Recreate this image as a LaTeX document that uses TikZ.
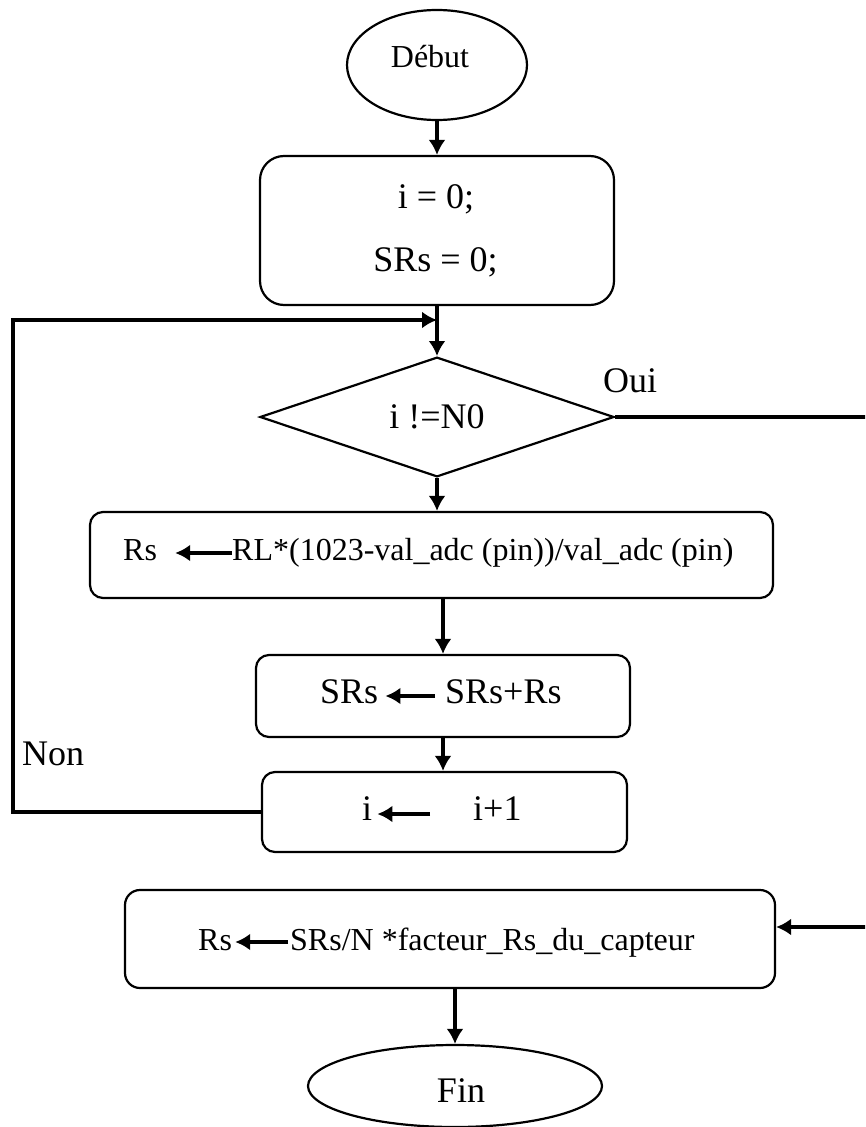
\documentclass[tikz,border=0pt]{standalone}
\usepackage{fontspec}
\setmainfont{Liberation Serif}
\usetikzlibrary{arrows.meta}
\usetikzlibrary{shapes.geometric}
\tikzset{
  fcterm/.style={draw, ellipse, line width=2.2pt, inner sep=0pt},
  fcbox/.style={draw, rectangle, rounded corners=13pt, line width=2.2pt,
    inner sep=0pt},
  fcdecision/.style={draw, diamond, line width=2.2pt, inner sep=0pt},
  fcarrow/.style={-{Latex[length=15pt, width=17pt]}, line width=3.5pt},
  fcbig/.style={font=\fontsize{36}{43}\selectfont, inner sep=0pt},
  fcsmall/.style={font=\fontsize{32}{38}\selectfont, inner sep=0pt},
  every picture/.style={line join=miter},
}

\begin{document}
\begin{tikzpicture}[x=1pt, y=-1pt]
\useasboundingbox (0, 0) rectangle (865, 1127);
\clip (0, 0) rectangle (865, 1127);

% Start.
\node[fcterm, minimum width=180pt, minimum height=110pt] (debut) at (437, 65) {};
\node[fcsmall, anchor=base] (debuttxt) at (430, 67) {Début};

% Initialisation.
\node[fcbox, rounded corners=24pt, minimum width=354pt,
      minimum height=149pt] (init) at (437, 230.5) {};
\node[fcbig, anchor=base] (initi) at (436, 208) {i = 0;};
\node[fcbig, anchor=base] (initsrs) at (435.5, 271) {SRs = 0;};

% Loop test.
\node[fcdecision, fcbig, minimum width=354pt, minimum height=118pt]
  (test) at (437, 417) {i !=N0};
\node[fcbig, anchor=base west] (oui) at (603, 392) {Oui};
\node[fcbig, anchor=base west] (non) at (22, 765) {Non};

% Reading of the sensor.
\node[fcbox, minimum width=683pt, minimum height=86pt] (calc) at (431.5, 555) {};
\node[fcsmall, anchor=base west] (calcrs) at (123, 560) {Rs};
\node[fcsmall, anchor=base west] (calcexpr) at (232, 560)
  {RL*(1023-val\_adc (pin))/val\_adc (pin)};
\draw[fcarrow, shorten >=18pt]
  ([yshift=7pt]calcexpr.base west) -- ([yshift=7pt]calcrs.base east);

% Sum.
\node[fcbox, minimum width=374pt, minimum height=82pt] (add) at (443, 696) {};
\node[fcbig, anchor=base west] (addsrs) at (320, 703) {SRs};
\node[fcbig, anchor=base west] (addexpr) at (445, 703) {SRs+Rs};
\draw[fcarrow, shorten <=10pt, shorten >=7pt]
  ([yshift=7pt]addexpr.base west) -- ([yshift=7pt]addsrs.base east);

% Increment.
\node[fcbox, minimum width=365pt, minimum height=80pt] (incr) at (444.5, 812) {};
\node[fcbig, anchor=base west] (incri) at (362, 820) {i};
\node[fcbig, anchor=base west] (increxpr) at (473, 820) {i+1};
\draw[fcarrow, shorten <=43pt, shorten >=5pt]
  ([yshift=6pt]increxpr.base west) -- ([yshift=6pt]incri.base east);

% Result.
\node[fcbox, rounded corners=15pt, minimum width=650pt,
      minimum height=98pt] (final) at (450, 939) {};
\node[fcsmall, anchor=base west] (finalrs) at (198, 950) {Rs};
\node[fcsmall, anchor=base west] (finalexpr) at (290, 950)
  {SRs/N *facteur\_Rs\_du\_capteur};
\draw[fcarrow, shorten <=2pt, shorten >=3pt]
  ([yshift=8pt]finalexpr.base west) -- ([yshift=8pt]finalrs.base east);

% End.
\node[fcterm, minimum width=294pt, minimum height=82pt] (fin) at (455, 1086) {};
\node[fcbig, anchor=base] (fintxt) at (461, 1102) {Fin};

% Flow.
\draw[fcarrow] (debut.south) -- (init.north);
\draw[fcarrow] (init.south) -- (test.north);
\draw[fcarrow] (test.south) -- (test.south |- calc.north);
\draw[fcarrow] (add.north |- calc.south) -- (add.north);
\draw[fcarrow] (add.south) -- (add.south |- incr.north);
\draw[fcarrow] (fin.north |- final.south) -- (fin.north);

% Back to the test.
\coordinate (loopcorner) at (13, 320);
\coordinate (loopend) at (437, 320);
\draw[fcarrow] (incr.west) -| (loopcorner) -- (loopend);

% Exit of the loop.
\coordinate (ouicorner) at (880, 417);
\draw[fcarrow] (test.east) -- (ouicorner) |- ([yshift=12pt]final.east);

\end{tikzpicture}
\end{document}
